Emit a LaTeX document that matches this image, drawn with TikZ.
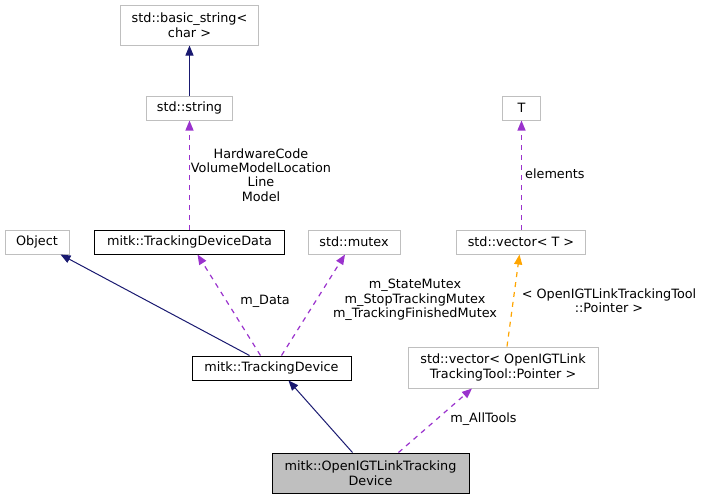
\documentclass[tikz,border=0pt]{standalone}
\usepackage{fontspec}
\setmainfont{DejaVu Sans}
\usepackage{xcolor}
\usetikzlibrary{arrows.meta, positioning}
\definecolor{inhblue}{RGB}{25,25,112}
\definecolor{usepurple}{RGB}{154,50,205}
\definecolor{tmplorange}{RGB}{255,165,0}
\definecolor{nodocgray}{RGB}{191,191,191}
\definecolor{mainfill}{RGB}{191,191,191}
\tikzset{
  cls/.style={rectangle, draw=nodocgray, fill=white, line width=1pt,
    inner sep=2pt, align=center, font=\fontsize{12.8}{15}\selectfont},
  doccls/.style={cls, draw=black},
  maincls/.style={cls, draw=black, fill=mainfill},
  inherit/.style={-{Triangle[length=10pt, width=8pt]}, line width=1pt, color=inhblue},
  usage/.style={-{Triangle[length=10pt, width=8pt]}, line width=1.2pt, color=usepurple,
    dash pattern=on 5pt off 5pt},
  tmpl/.style={-{Triangle[length=10pt, width=8pt]}, line width=1.2pt, color=tmplorange,
    dash pattern=on 5pt off 5pt},
  lbl/.style={align=center, inner sep=0pt, font=\fontsize{12.8}{14.3}\selectfont},
}

\begin{document}
\begin{tikzpicture}[x=1pt, y=-1pt]
  \useasboundingbox (0,0) rectangle (705,499);

  %% top row
  \node[cls, minimum width=138pt, minimum height=40pt] (bstr) at (189.5,25)
    {std::basic\_string<\\char >};
  \node[cls, minimum width=86pt, minimum height=24pt] (str) at (189.5,108) {std::string};
  \node[cls, minimum width=38pt, minimum height=24pt] (tpar) at (521.5,108) {T};

  %% middle row
  \node[cls, minimum width=64pt, minimum height=24pt] (obj) at (37,242) {Object};
  \node[doccls, minimum width=190pt, minimum height=24pt] (devdata) at (189.5,242)
    {mitk::TrackingDeviceData};
  \node[cls, minimum width=92pt, minimum height=24pt] (mtx) at (354,242) {std::mutex};
  \node[cls, minimum width=129pt, minimum height=24pt] (vecT) at (521,242)
    {std::vector< T >};

  %% lower rows
  \node[doccls, minimum width=159pt, minimum height=24pt] (dev) at (271.5,368)
    {mitk::TrackingDevice};
  \node[cls, minimum width=190pt, minimum height=41pt] (vecTool) at (503,367.5)
    {std::vector< OpenIGTLink\\TrackingTool::Pointer >};
  \node[maincls, minimum width=197pt, minimum height=40pt] (igt) at (370.5,473)
    {mitk::OpenIGTLinkTracking\\Device};

  %% connectors
  \draw[inherit] (str) -- (bstr);
  \draw[usage] (devdata) -- (str);
  \draw[inherit] ([xshift=-22pt]dev.north) -- ([xshift=-9pt]obj.south east);
  \draw[usage] ([xshift=-11pt]dev.north) -- ([xshift=8pt]devdata.south);
  \draw[usage] ([xshift=10pt]dev.north) -- ([xshift=-9pt]mtx.south);
  \draw[inherit] ([xshift=-18pt]igt.north) -- ([xshift=17pt]dev.south);
  \draw[usage] ([xshift=28pt]igt.north) -- ([xshift=-31pt]vecTool.south);
  \draw[tmpl] ([xshift=4pt]vecTool.north) -- ([xshift=-1.5pt]vecT.south);
  \draw[usage] (vecT.north -| tpar) -- (tpar);

  %% labels
  \node[lbl] (lStr) at (261,175)
    {HardwareCode\\VolumeModelLocation\\Line\\Model};
  \node[lbl] (lData) at (265,301) {m\_Data};
  \node[lbl] (lMtx) at (415,300)
    {m\_StateMutex\\m\_StopTrackingMutex\\m\_TrackingFinishedMutex};
  \node[lbl] (lTools) at (483.5,419) {m\_AllTools};
  \node[lbl] (lTmpl) at (609,301) {< OpenIGTLinkTrackingTool\\::Pointer >};
  \node[lbl, anchor=west] (lElem) at (525,174) {elements};
\end{tikzpicture}
\end{document}
